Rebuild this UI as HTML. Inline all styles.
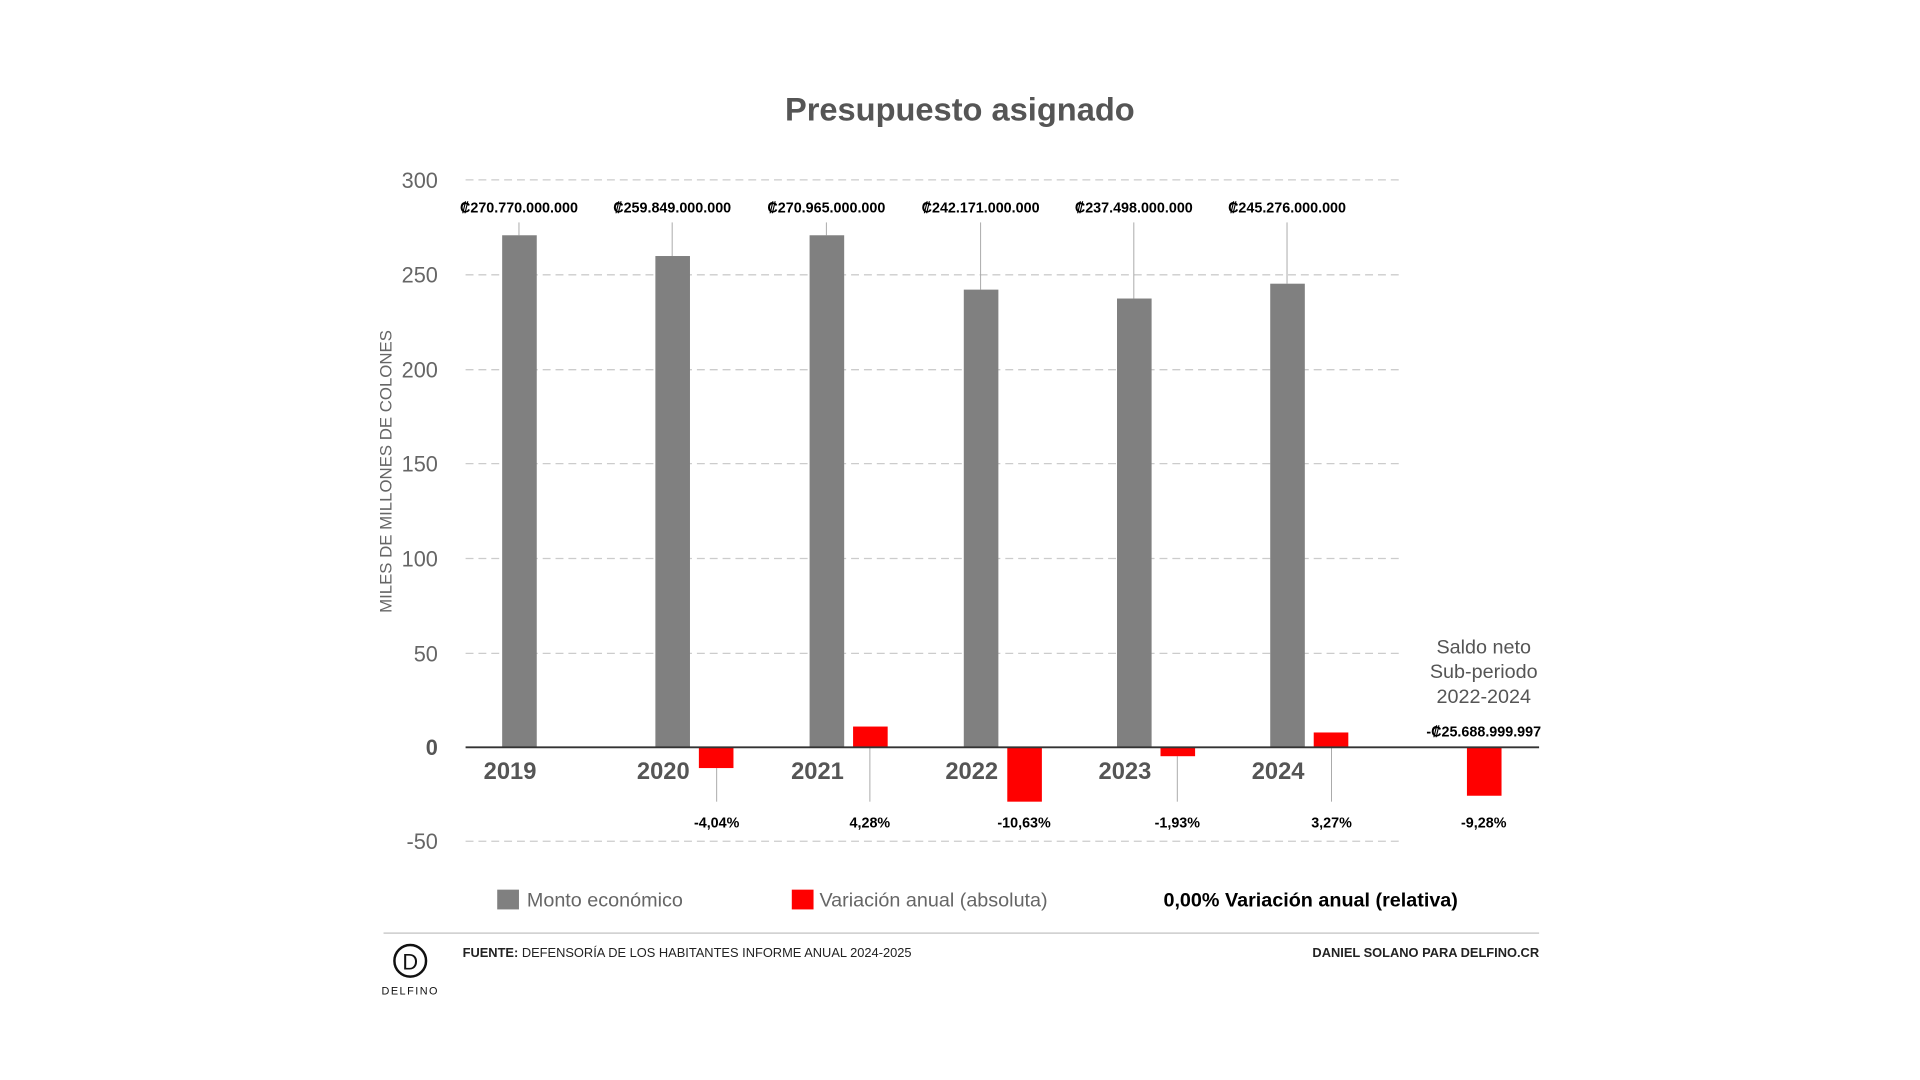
<!DOCTYPE html>
<html><head><meta charset="utf-8"><style>html,body{margin:0;padding:0;background:#fff}svg{display:block}text{font-family:"Liberation Sans",sans-serif}</style></head>
<body>
<svg width="1920" height="1080" viewBox="0 0 1920 1080" xmlns="http://www.w3.org/2000/svg">
<rect width="1920" height="1080" fill="#fff"/>
<g transform="scale(0.9885)">
<text x="971" y="122" text-anchor="middle" font-size="33" font-weight="bold" fill="#555">Presupuesto asignado</text>
<g stroke="#ccc" stroke-width="1.3" stroke-dasharray="8,5">
<line x1="471" y1="182" x2="1418" y2="182"/><line x1="471" y1="278" x2="1418" y2="278"/><line x1="471" y1="374" x2="1418" y2="374"/><line x1="471" y1="469" x2="1418" y2="469"/><line x1="471" y1="565" x2="1418" y2="565"/><line x1="471" y1="661" x2="1418" y2="661"/><line x1="471" y1="851" x2="1418" y2="851"/>
</g>
<g font-size="22" fill="#666" text-anchor="end">
<text x="443" y="190">300</text><text x="443" y="286">250</text><text x="443" y="382">200</text><text x="443" y="477">150</text><text x="443" y="573">100</text><text x="443" y="669">50</text><text x="443" y="764" font-weight="bold" fill="#555">0</text><text x="443" y="859">-50</text>
</g>
<text transform="translate(396,477) rotate(-90)" text-anchor="middle" font-size="17" fill="#666">MILES DE MILLONES DE COLONES</text>
<g stroke="#aaa" stroke-width="1">
<line x1="525" y1="225" x2="525" y2="238"/><line x1="680" y1="225" x2="680" y2="259"/><line x1="836" y1="225" x2="836" y2="238"/><line x1="992" y1="225" x2="992" y2="293"/><line x1="1147" y1="225" x2="1147" y2="302"/><line x1="1302" y1="225" x2="1302" y2="287"/>
<line x1="725" y1="777" x2="725" y2="811"/><line x1="880" y1="756" x2="880" y2="811"/><line x1="1191" y1="765" x2="1191" y2="811"/><line x1="1347" y1="756" x2="1347" y2="811"/>
</g>
<g fill="#808080">
<rect x="508" y="238" width="35" height="518"/><rect x="663" y="259" width="35" height="497"/><rect x="819" y="238" width="35" height="518"/><rect x="975" y="293" width="35" height="463"/><rect x="1130" y="302" width="35" height="454"/><rect x="1285" y="287" width="35" height="469"/>
</g>
<g fill="#f00">
<rect x="707" y="756" width="35" height="21"/><rect x="863" y="735" width="35" height="21"/><rect x="1019" y="756" width="35" height="55"/><rect x="1174" y="756" width="35" height="9"/><rect x="1329" y="741" width="35" height="15"/><rect x="1484" y="756" width="35" height="49"/>
</g>
<line x1="471" y1="756" x2="1557" y2="756" stroke="#333" stroke-width="2"/>
<g font-size="14.5" font-weight="bold" fill="#000" text-anchor="middle">
<text x="525" y="215">₡270.770.000.000</text><text x="680" y="215">₡259.849.000.000</text><text x="836" y="215">₡270.965.000.000</text><text x="992" y="215">₡242.171.000.000</text><text x="1147" y="215">₡237.498.000.000</text><text x="1302" y="215">₡245.276.000.000</text>
<text x="725" y="837">-4,04%</text><text x="880" y="837">4,28%</text><text x="1036" y="837">-10,63%</text><text x="1191" y="837">-1,93%</text><text x="1347" y="837">3,27%</text><text x="1501" y="837">-9,28%</text>
<text x="1501" y="745">-₡25.688.999.997</text>
</g>
<g font-size="24" font-weight="bold" fill="#555" text-anchor="middle">
<text x="516" y="788">2019</text><text x="671" y="788">2020</text><text x="827" y="788">2021</text><text x="983" y="788">2022</text><text x="1138" y="788">2023</text><text x="1293" y="788">2024</text>
</g>
<g font-size="20" fill="#555" text-anchor="middle">
<text x="1501" y="661">Saldo neto</text><text x="1501" y="686">Sub-periodo</text><text x="1501" y="711">2022-2024</text>
</g>
<rect x="503" y="900" width="22" height="20" fill="#808080"/>
<text x="533" y="917" font-size="20" fill="#666">Monto económico</text>
<rect x="801" y="900" width="22" height="20" fill="#f00"/>
<text x="829" y="917" font-size="20" fill="#666">Variación anual (absoluta)</text>
<text x="1177" y="917" font-size="20" font-weight="bold" fill="#000">0,00% Variación anual (relativa)</text>
<line x1="388" y1="944" x2="1557" y2="944" stroke="#ccc" stroke-width="1.5"/>
<text x="468" y="968" font-size="13" fill="#222"><tspan font-weight="bold">FUENTE:</tspan> DEFENSORÍA DE LOS HABITANTES INFORME ANUAL 2024-2025</text>
<text x="1557" y="968" font-size="13" font-weight="bold" fill="#222" text-anchor="end">DANIEL SOLANO PARA DELFINO.CR</text>
<circle cx="415" cy="972" r="16" fill="none" stroke="#111" stroke-width="2.5"/>
<text x="415" y="981" font-size="22" text-anchor="middle" font-family="Liberation Serif,serif" fill="#111">D</text>
<text x="415" y="1006" font-size="11" text-anchor="middle" fill="#111" letter-spacing="1.5">DELFINO</text>
</g>
</svg>
</body></html>
